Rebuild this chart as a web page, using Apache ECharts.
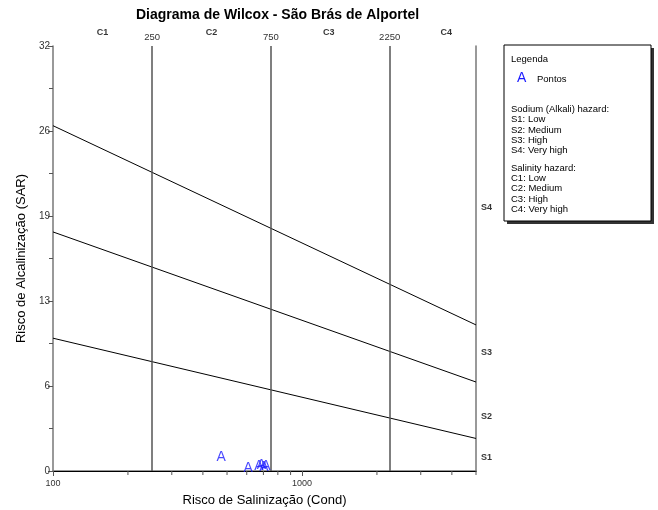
<!DOCTYPE html>
<html><head><meta charset="utf-8">
<script src="https://cdn.jsdelivr.net/npm/echarts@6/dist/echarts.min.js"></script>
<style>html,body{margin:0;padding:0;background:#fff}#c{width:658px;height:510px}</style>
</head><body><div id="c"></div>
<script>
const chartTitle = 'Diagrama de Wilcox - São Brás de Alportel';
const xName = 'Risco de Salinização (Cond)';
const yName = 'Risco de Alcalinização (SAR)';
const condPoints = [474, 608, 672, 688, 704, 717];
const sarPoints = [1.13, 0.3, 0.45, 0.5, 0.4, 0.45];
const lineCond = [100, 5000];
const lineS1S2 = [10, 2.45];
const lineS2S3 = [18, 6.7];
const lineS3S4 = [26, 11.0];
const salinityBounds = [250, 750, 2250];
const cClassNames = ['C1', 'C2', 'C3', 'C4'];
const cClassPos = [158, 433, 1280, 3800];
const sClassNames = ['S1', 'S2', 'S3', 'S4'];
const sClassPos = [1.1, 4.2, 9.0, 19.9];
const yTickLabels = ['0', '6', '13', '19', '26', '32'];
const xMinorTicks = [200, 300, 400, 500, 600, 700, 800, 900, 2000, 3000, 4000, 5000];
const legendLines = ['Sodium (Alkali) hazard:', 'S1: Low', 'S2: Medium', 'S3: High', 'S4: Very high'];
const legendLines2 = ['Salinity hazard:', 'C1: Low', 'C2: Medium', 'C3: High', 'C4: Very high'];

const FONT = 'Liberation Sans, Arial, sans-serif';
const chart = echarts.init(document.getElementById('c'));

function sLine(vals) {
  return {
    type: 'line', silent: true, symbol: 'none', z: 3,
    lineStyle: { color: '#000', width: 1 },
    data: lineCond.map((c, i) => [c, vals[i]])
  };
}

const LF = '9.5px ' + FONT;
const legendGraphics = [
  { type: 'rect', shape: { x: 507, y: 48, width: 147, height: 176 }, style: { fill: '#333' } },
  { type: 'rect', shape: { x: 504, y: 45, width: 147, height: 176 }, style: { fill: '#fff', stroke: '#000', lineWidth: 1 } },
  { type: 'text', x: 511, y: 59, style: { text: 'Legenda', font: LF, fill: '#000', textVerticalAlign: 'middle' } },
  { type: 'text', x: 517, y: 78, style: { text: 'A', font: '14px ' + FONT, fill: '#1a1aff', textVerticalAlign: 'middle' } },
  { type: 'text', x: 537, y: 79, style: { text: 'Pontos', font: LF, fill: '#000', textVerticalAlign: 'middle' } }
];
legendLines.forEach((t, i) => legendGraphics.push({ type: 'text', x: 511, y: 109.5 + i * 10.3, style: { text: t, font: LF, fill: '#000', textVerticalAlign: 'middle' } }));
legendLines2.forEach((t, i) => legendGraphics.push({ type: 'text', x: 511, y: 168 + i * 10.4, style: { text: t, font: LF, fill: '#000', textVerticalAlign: 'middle' } }));

chart.setOption({
  animation: false,
  backgroundColor: '#fff',
  textStyle: { fontFamily: FONT },
  title: { text: chartTitle, left: 131, top: 3, textStyle: { fontSize: 14, fontWeight: 'bold', color: '#000', fontFamily: FONT } },
  grid: { left: 53, top: 46, width: 423, height: 425, containLabel: false, outerBoundsMode: 'none' },
  xAxis: [{
    type: 'log', logBase: 10, min: 100, max: 5000,
    name: xName, nameLocation: 'middle', nameGap: 23,
    nameTextStyle: { fontSize: 13, color: '#000', fontFamily: FONT },
    axisLine: { lineStyle: { color: '#777', width: 1.5 } },
    axisTick: { show: true, length: 5, lineStyle: { color: '#555' } },
    axisLabel: { fontSize: 9, color: '#333', margin: 8, showMaxLabel: false, formatter: v => String(Math.round(v)) },
    splitLine: { show: false }
  }, {
    type: 'log', logBase: 10, min: 100, max: 5000, position: 'top',
    axisLine: { lineStyle: { color: '#000', width: 1 } },
    axisTick: { show: false }, axisLabel: { show: false }, splitLine: { show: false }
  }],
  yAxis: [{
    type: 'value', min: 0, max: 32, interval: 6.4,
    name: yName, nameLocation: 'middle', nameGap: 25, nameRotate: 90,
    nameTextStyle: { fontSize: 13, color: '#000', fontFamily: FONT },
    axisLine: { show: true, lineStyle: { color: '#777', width: 1.5 } },
    axisTick: { show: true, length: 5, lineStyle: { color: '#555' } },
    minorTick: { show: true, splitNumber: 2, length: 4, lineStyle: { color: '#555' } },
    axisLabel: { fontSize: 10, color: '#333', margin: 3, formatter: v => yTickLabels[Math.round(v / 6.4)] },
    splitLine: { show: false }
  }, {
    type: 'value', min: 0, max: 32, position: 'right',
    axisLine: { show: true, lineStyle: { color: '#777', width: 1.5 } },
    axisTick: { show: false }, axisLabel: { show: false }, splitLine: { show: false }
  }],
  graphic: legendGraphics,
  series: [
    sLine(lineS1S2), sLine(lineS2S3), sLine(lineS3S4),
    {
      type: 'line', data: [], silent: true,
      markLine: {
        silent: true, symbol: 'none', animation: false,
        lineStyle: { color: '#555', width: 1.5, type: 'solid' },
        label: { show: true, position: 'end', distance: 4, fontSize: 9.5, color: '#333', fontFamily: FONT, formatter: p => String(p.value) },
        data: salinityBounds.map(v => ({ xAxis: v }))
      }
    },
    {
      type: 'custom', silent: true, clip: false,
      data: xMinorTicks.map(v => [v, 0]),
      renderItem: (params, api) => {
        const p = api.coord([api.value(0), 0]);
        return { type: 'line', shape: { x1: p[0], y1: p[1], x2: p[0], y2: p[1] + 4 }, style: { stroke: '#555', lineWidth: 1 } };
      }
    },
    {
      type: 'scatter', silent: true, clip: false, symbolSize: 0,
      data: cClassPos.map((v, i) => ({ value: [v, 32], name: cClassNames[i] })),
      label: { show: true, position: 'top', distance: 9, formatter: p => p.name, fontSize: 9, fontWeight: 'bold', color: '#000', fontFamily: FONT }
    },
    {
      type: 'scatter', silent: true, clip: false, symbolSize: 0,
      data: sClassPos.map((v, i) => ({ value: [5000, v], name: sClassNames[i] })),
      label: { show: true, position: 'right', distance: 5, offset: [0, 1], formatter: p => p.name, fontSize: 9, fontWeight: 'bold', color: '#000', fontFamily: FONT }
    },
    {
      type: 'scatter', silent: true, clip: false, symbolSize: 0, z: 5,
      data: condPoints.map((c, i) => [c, sarPoints[i]]),
      label: { show: true, position: 'inside', offset: [0, 1], formatter: 'A', fontSize: 14, color: '#1a1aff', fontFamily: FONT }
    }
  ]
});
</script>
</body></html>
